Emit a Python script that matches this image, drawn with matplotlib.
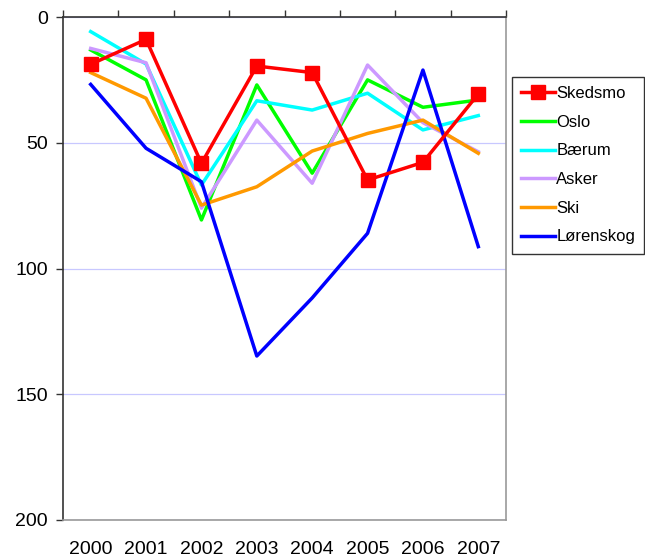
import matplotlib
matplotlib.use("Agg")
import matplotlib.pyplot as plt
import numpy as np

plt.rcParams['font.family'] = ['Liberation Sans', 'DejaVu Sans']

years = ["2000", "2001", "2002", "2003", "2004", "2005", "2006", "2007"]

skedsmo = [18.8, 8.9, 58.2, 19.5, 22.1, 64.8, 57.8, 30.6]
oslo = [13.1, 25.0, 80.7, 27.0, 62.1, 25.0, 35.9, 33.0]
baerum = [5.8, 18.7, 66.8, 33.3, 37.0, 30.3, 44.9, 39.2]
asker = [12.5, 18.2, 76.0, 41.0, 66.1, 19.1, 42.0, 53.6]
ski = [22.1, 32.3, 74.8, 67.5, 53.3, 46.3, 41.0, 54.2]
lorenskog = [26.8, 52.2, 65.5, 134.8, 111.7, 86.0, 21.1, 91.3]

series = [
    ("Skedsmo", skedsmo, "#ff0000"),
    ("Oslo", oslo, "#00ff00"),
    ("Bærum", baerum, "#00ffff"),
    ("Asker", asker, "#cc99ff"),
    ("Ski", ski, "#ff9900"),
    ("Lørenskog", lorenskog, "#0000ff"),
]

fig = plt.figure(figsize=(6.45, 5.58), dpi=100)
ax = fig.add_axes([63 / 645, 1 - 520 / 558, 443 / 645, 503 / 558])

x = np.arange(len(years))
for name, vals, col in series:
    if name == "Skedsmo":
        ax.plot(x, vals, color=col, lw=2.5, marker="s", markersize=9.5,
                label=name, zorder=3)
    else:
        ax.plot(x, vals, color=col, lw=2.5, label=name, zorder=2)

ax.set_xlim(-0.5, len(years) - 0.5)
ax.set_ylim(200, 0)
ax.set_yticks([0, 50, 100, 150, 200])
ax.yaxis.grid(True, color="#c8c8ff", lw=0.9)
ax.set_axisbelow(True)

ax.set_xticks(x)
ax.set_xticklabels(years)
ax.set_xticks(np.arange(-0.5, len(years)), minor=True)
ax.tick_params(axis="x", which="major", length=0, pad=15, labelsize=14)
ax.tick_params(axis="x", which="minor", bottom=False, top=True,
               direction="out", length=5, width=1, color="#333333")
ax.tick_params(axis="y", length=5, width=1, pad=6, labelsize=14,
               color="#333333")

ax.spines["top"].set_color("#333333")
ax.spines["left"].set_color("#333333")
ax.spines["bottom"].set_color("#999999")
ax.spines["right"].set_color("#999999")
for s in ax.spines.values():
    s.set_linewidth(1.2)

leg = ax.legend(loc="upper left", bbox_to_anchor=(512 / 645, 1 - 77 / 558),
                bbox_transform=fig.transFigure, fontsize=12,
                frameon=True, fancybox=False, edgecolor="black",
                handlelength=2.0, handletextpad=0.1, borderpad=0.55,
                labelspacing=0.82, borderaxespad=0)
leg.get_frame().set_linewidth(1.0)

fig.savefig("out.png", dpi=100)
